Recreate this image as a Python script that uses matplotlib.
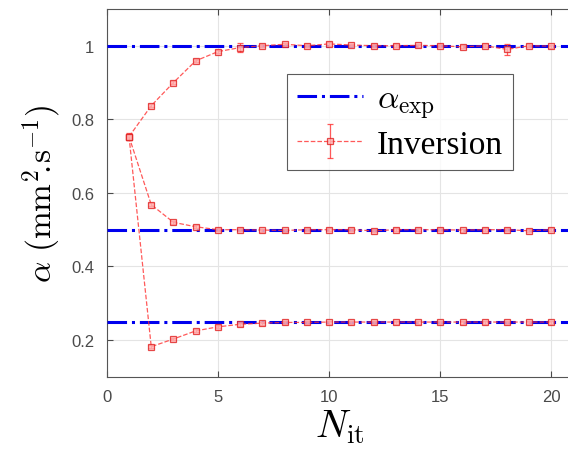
import numpy as np
import matplotlib.pyplot as plt

plt.rcParams['mathtext.fontset'] = 'cm'
plt.rcParams['font.family'] = ['Liberation Sans', 'DejaVu Sans']

# iterations
n_it = list(range(1, 21))
# true (experimental) diffusivities
alpha_exp = [1.0, 0.5, 0.25]
# inversion results for each case
inv_1 = [0.753, 0.837, 0.900, 0.959, 0.984, 0.995, 1.000, 1.004, 1.000, 1.005,
         1.002, 1.000, 1.000, 1.001, 1.000, 0.997, 1.000, 0.990, 1.000, 0.999]
err_1 = [0.010, 0.004, 0.004, 0.004, 0.004, 0.012, 0.004, 0.004, 0.004, 0.006,
         0.004, 0.004, 0.004, 0.004, 0.004, 0.004, 0.004, 0.014, 0.004, 0.004]
inv_2 = [0.753, 0.568, 0.520, 0.508, 0.500, 0.500, 0.499, 0.498, 0.500, 0.500,
         0.500, 0.497, 0.500, 0.500, 0.500, 0.499, 0.500, 0.500, 0.497, 0.500]
err_2 = [0.004] * 20
inv_3 = [0.753, 0.182, 0.203, 0.225, 0.236, 0.243, 0.246, 0.248, 0.248, 0.249,
         0.249, 0.249, 0.249, 0.249, 0.249, 0.249, 0.249, 0.249, 0.249, 0.249]
err_3 = [0.004] * 20

fig = plt.figure(figsize=(5.68, 4.52), dpi=100)
ax = fig.add_axes([0.188, 0.164, 0.822, 0.814])

for i, a in enumerate(alpha_exp):
    ax.plot([0, 21], [a, a], '-.', color='#0000ee', lw=2.2, zorder=3,
            label=r'$\alpha_{\rm exp}$' if i == 0 else None)

for k, (y, e) in enumerate([(inv_1, err_1), (inv_2, err_2), (inv_3, err_3)]):
    ax.errorbar(n_it, y, yerr=e, fmt='--s', color='#ff3030', lw=0.9, ms=5,
                mfc='#ffb8b8', mec='#e02020', mew=0.9, elinewidth=0.9, capsize=2.5,
                alpha=0.8, zorder=4, label='Inversion' if k == 0 else None)

ax.set_xlim(0, 21)
ax.set_ylim(0.1, 1.1)
ax.set_xticks([0, 5, 10, 15, 20])
ax.set_yticks([0.2, 0.4, 0.6, 0.8, 1.0])
ax.set_yticklabels(['0.2', '0.4', '0.6', '0.8', '1'])
ax.grid(True, color='#e4e4e4', lw=0.8)
ax.set_axisbelow(True)
ax.tick_params(direction='in', top=True, right=False, labelsize=12,
               colors='#4a4a4a', length=4, pad=9)
for s in ax.spines.values():
    s.set_color('#555555')
    s.set_linewidth(0.8)
ax.spines['right'].set_visible(False)

ax.set_xlabel(r'$N_{\rm it}$', fontsize=28, labelpad=2)
ax.set_ylabel(r'$\alpha\ (\mathrm{mm}^2\!.\!\mathrm{s}^{-1})$', fontsize=24, labelpad=6)

leg = ax.legend(loc='upper left', bbox_to_anchor=(0.385, 0.823), fontsize=24,
                frameon=True, fancybox=False, edgecolor='#333333',
                handlelength=2.0, borderpad=0.3, labelspacing=0.25,
                handletextpad=0.4, borderaxespad=0)
leg.get_frame().set_linewidth(0.8)
leg.get_texts()[1].set_fontfamily(['Liberation Serif', 'DejaVu Serif'])

fig.savefig('out.png', dpi=100)
